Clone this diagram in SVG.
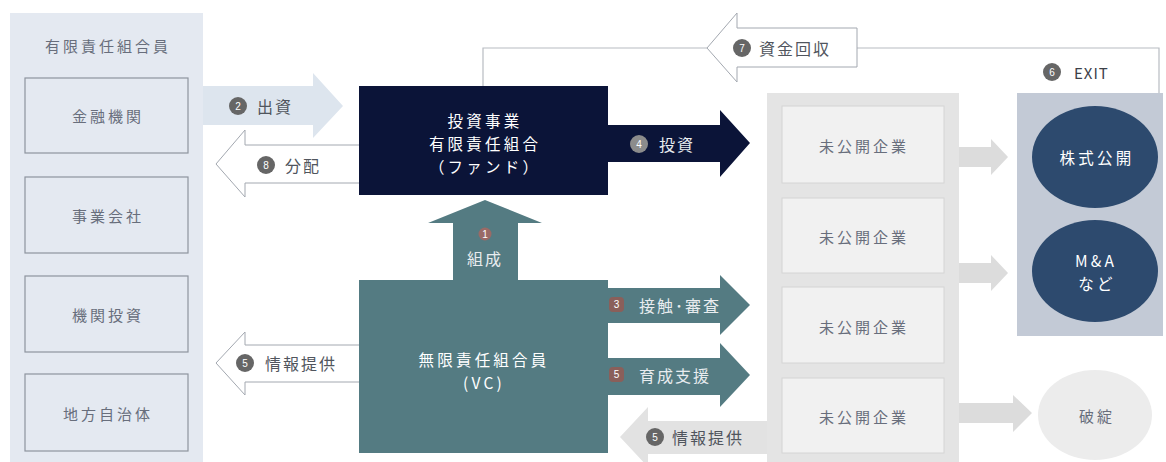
<svg xmlns="http://www.w3.org/2000/svg" width="1166" height="462" viewBox="0 0 1166 462">
<style>
text{font-family:"Noto Sans CJK JP","Noto Sans",sans-serif;}
.lbl{font-size:15px;fill:#686e7c;letter-spacing:3px;text-anchor:middle;dominant-baseline:central;}
.lp{fill:#e4e9f1;stroke:#8e949e;stroke-width:1.2;}
.co{fill:#f1f1f1;stroke:#d4d4d4;stroke-width:1;}
.wt{font-size:15.5px;fill:#ffffff;letter-spacing:3.2px;text-anchor:middle;dominant-baseline:central;}
.at{font-size:16px;fill:#50555d;letter-spacing:2px;dominant-baseline:central;}
.atw{font-size:16px;fill:#e8ecef;letter-spacing:2px;dominant-baseline:central;}
.bd{fill:#666666;}
.bn{font-size:10px;fill:#ffffff;text-anchor:middle;dominant-baseline:central;font-family:"Liberation Sans",sans-serif;}
.ol{fill:#ffffff;stroke:#a3a8b0;stroke-width:1;}
.ln{fill:none;stroke:#b8bcc2;stroke-width:1.2;}
</style>

<g id="connectors">
<polyline class="ln" points="483,86 483,48 707,48"/>
<polyline class="ln" points="857,48 1159,48 1159,93"/>
<path id="arrow-7" class="ol" d="M857,28 H737 V13 L707,48 L737,82 V67 H857 Z"/>
<path id="arrow-2" d="M203,86 H313 V73 L343,106 L313,138 V125 H203 Z" fill="#dde5ee"/>
<path id="arrow-8" class="ol" d="M362,145 H245 V130 L216,164 L245,197 V183 H362"/>
<path id="arrow-4" d="M606,125 H720 V110 L750,143 L720,177 V162 H606 Z" fill="#0b1438"/>
<path id="arrow-1" d="M453,282 V223 H428 L485,200 L542,223 H518 V282 Z" fill="#547b82"/>
<path id="arrow-3" d="M606,288 H720 V275 L750,305 L720,335 V323 H606 Z" fill="#547b82"/>
<path id="arrow-5b" d="M606,358 H720 V343 L750,375 L720,407 V395 H606 Z" fill="#547b82"/>
<path id="arrow-5l" class="ol" d="M362,345 H245 V332 L216,363 L245,395 V382 H362"/>
<path id="arrow-5c" d="M770,421 H648 V407 L620,437 L648,467 V454 H770 Z" fill="#e2e2e2"/>
<path id="arrow-e1" d="M957,147 H991 V139 L1008,157 L991,175 V167 H957 Z" fill="#dcdcdc"/>
<path id="arrow-e2" d="M957,263 H991 V255 L1008,273 L991,291 V283 H957 Z" fill="#dcdcdc"/>
<path id="arrow-e3" d="M957,403 H1013 V395 L1032,413 L1013,432 V423 H957 Z" fill="#dcdcdc"/>
<circle class="bd" cx="742" cy="48" r="9"/><text class="bn" x="742" y="48">7</text>
<text class="at" x="759" y="48" letter-spacing="3">資金回収</text>
<circle class="bd" cx="238" cy="106" r="9"/><text class="bn" x="238" y="106">2</text>
<text class="at" x="257" y="106">出資</text>
<circle class="bd" cx="266" cy="165" r="9"/><text class="bn" x="266" y="165">8</text>
<text class="at" x="285" y="165">分配</text>
<circle cx="639" cy="144" r="9" fill="#8c8c8c"/><text class="bn" x="639" y="144">4</text>
<text class="atw" x="659" y="144">投資</text>
<circle cx="485" cy="234" r="6.5" fill="#9a6a66"/><text class="bn" x="485" y="234" font-size="8">1</text>
<text class="atw" x="485" y="258" text-anchor="middle" letter-spacing="1" font-size="15">組成</text>
<rect x="609" y="297" width="15" height="15" rx="4" fill="#8a5f5a"/><text class="bn" x="616.5" y="304.5">3</text>
<text class="atw" x="639" y="305">接触･審査</text>
<rect x="609" y="367" width="15" height="15" rx="4" fill="#8a5f5a"/><text class="bn" x="616.5" y="374.5">5</text>
<text class="atw" x="639" y="375">育成支援</text>
<circle class="bd" cx="245" cy="363" r="9"/><text class="bn" x="245" y="363">5</text>
<text class="at" x="265" y="363" letter-spacing="3">情報提供</text>
<circle class="bd" cx="655" cy="437" r="9"/><text class="bn" x="655" y="437">5</text>
<text class="at" x="672" y="437" letter-spacing="3">情報提供</text>
</g>

<g id="lp-panel">
<rect x="10" y="13" width="193" height="449" fill="#e4e9f1"/>
<text class="lbl" x="108" y="45" font-size="16" letter-spacing="3.5">有限責任組合員</text>
</g>
<g id="lp-1"><rect class="lp" x="25" y="78" width="163" height="75"/><text class="lbl" x="108" y="115">金融機関</text></g>
<g id="lp-2"><rect class="lp" x="25" y="177" width="163" height="76"/><text class="lbl" x="108" y="215">事業会社</text></g>
<g id="lp-3"><rect class="lp" x="25" y="276" width="163" height="76"/><text class="lbl" x="108" y="314">機関投資</text></g>
<g id="lp-4"><rect class="lp" x="25" y="374" width="163" height="77"/><text class="lbl" x="108" y="413">地方自治体</text></g>

<g id="fund">
<rect x="359" y="86" width="249" height="109" fill="#0b1438"/>
<text class="wt" x="485" y="120">投資事業</text>
<text class="wt" x="485" y="143">有限責任組合</text>
<text class="wt" x="485" y="166">（ファンド）</text>
</g>

<g id="vc">
<rect x="359" y="280" width="249" height="173" fill="#547b82"/>
<text class="wt" x="484" y="359">無限責任組合員</text>
<text class="wt" x="484" y="382" font-family="Liberation Sans,sans-serif">(VC)</text>
</g>

<g id="companies">
<rect x="767" y="93" width="192" height="369" fill="#e4e4e4"/>
<g id="co-1"><rect class="co" x="782" y="106" width="162" height="77"/><text class="lbl" x="864" y="145">未公開企業</text></g>
<g id="co-2"><rect class="co" x="782" y="198" width="162" height="75"/><text class="lbl" x="864" y="236">未公開企業</text></g>
<g id="co-3"><rect class="co" x="782" y="287" width="162" height="76"/><text class="lbl" x="864" y="326">未公開企業</text></g>
<g id="co-4"><rect class="co" x="782" y="378" width="162" height="75"/><text class="lbl" x="864" y="416">未公開企業</text></g>
</g>

<g id="exit">
<circle class="bd" cx="1052" cy="72" r="9"/><text class="bn" x="1052" y="72">6</text>
<text x="1074" y="72" font-size="15" fill="#3c4048" dominant-baseline="central" font-family="Liberation Sans,sans-serif" letter-spacing="1">EXIT</text>
<rect x="1017" y="93" width="146" height="243" fill="#c3cad6"/>
</g>
<g id="ipo">
<ellipse cx="1095" cy="157" rx="63" ry="51" fill="#2d4a6e"/>
<text class="wt" x="1097" y="157" letter-spacing="2.5">株式公開</text>
</g>
<g id="ma">
<ellipse cx="1095" cy="271" rx="63" ry="51" fill="#2d4a6e"/>
<text class="wt" x="1096" y="260" font-size="15" font-family="Liberation Sans,sans-serif" letter-spacing="1">M&amp;A</text>
<text class="wt" x="1097" y="283" font-size="15" letter-spacing="2">など</text>
</g>
<g id="bankrupt">
<ellipse cx="1095" cy="415" rx="57" ry="45" fill="#ececec"/>
<text class="lbl" x="1097" y="415" font-size="15" fill="#6b6f78">破綻</text>
</g>
</svg>
